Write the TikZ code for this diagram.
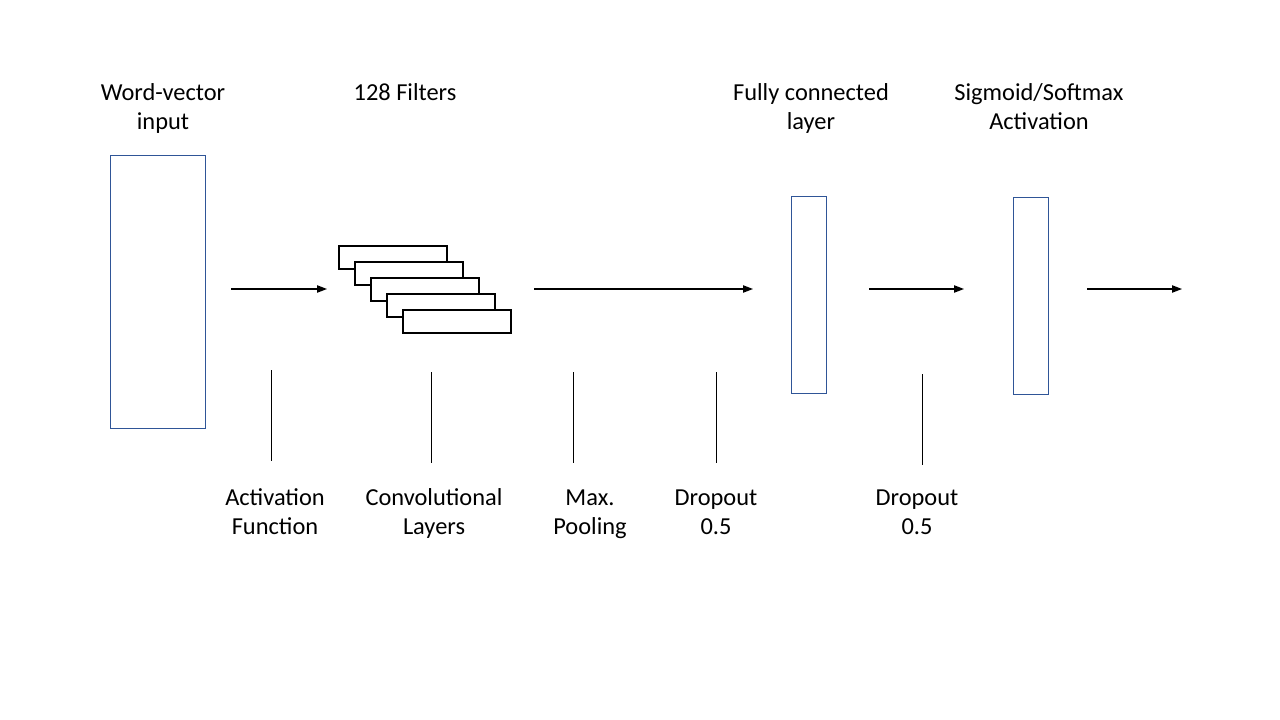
\documentclass[tikz,border=0pt]{standalone}
\usepackage{fontspec}
\setmainfont{Carlito}
\usetikzlibrary{arrows.meta}
\definecolor{boxblue}{RGB}{47,85,151}
\newcommand{\sline}{\rule[-6.5pt]{0pt}{21.75pt}}
\begin{document}
\begin{tikzpicture}[x=0.75pt,y=-0.75pt,
  lbl/.style={align=center,font=\fontsize{18.3pt}{21.75pt}\selectfont,inner sep=0pt},
  layerbox/.style={draw=boxblue,line width=0.75pt},
  filterbox/.style={draw=black,fill=white,line width=0.9pt},
  flow/.style={line width=0.9pt,-{Triangle[length=7.5pt,width=5.5pt]}},
  tick/.style={line width=0.75pt}]
\useasboundingbox (0,0) rectangle (1280,720);
% top labels
\node[lbl] (tin) at (163,109.2) {\sline Word-vector\\\sline input};
\node[lbl] (tfil) at (405,94.7) {\sline 128 Filters};
\node[lbl] (tfc) at (811,109.2) {\sline Fully connected\\\sline layer};
\node[lbl] (tsig) at (1039,109.2) {\sline Sigmoid/Softmax\\\sline Activation};
% boxes
\draw[layerbox] (110,156) rectangle (205,428);
\draw[layerbox] (791,197) rectangle (826,393);
\draw[layerbox] (1013,198) rectangle (1048,394);
% filters
\foreach \i in {0,...,4}{
  \draw[filterbox] (339+16*\i,246+16*\i) rectangle ++(108,23);
}
% arrows
\coordinate (a1s) at (231,289); \coordinate (a1e) at (327,289);
\coordinate (a2s) at (534,289); \coordinate (a2e) at (753,289);
\coordinate (a3s) at (869,289); \coordinate (a3e) at (964,289);
\coordinate (a4s) at (1087,289); \coordinate (a4e) at (1182,289);
\draw[flow] (a1s) -- (a1e);
\draw[flow] (a2s) -- (a2e);
\draw[flow] (a3s) -- (a3e);
\draw[flow] (a4s) -- (a4e);
% vertical ticks
\coordinate (v1a) at (271,370); \coordinate (v1b) at (271,461);
\coordinate (v2a) at (431,372); \coordinate (v2b) at (431,463);
\coordinate (v3a) at (573,372); \coordinate (v3b) at (573,463);
\coordinate (v4a) at (716,372); \coordinate (v4b) at (716,463);
\coordinate (v5a) at (922,374); \coordinate (v5b) at (922,465);
\draw[tick] (v1a) -- (v1b);
\draw[tick] (v2a) -- (v2b);
\draw[tick] (v3a) -- (v3b);
\draw[tick] (v4a) -- (v4b);
\draw[tick] (v5a) -- (v5b);
% bottom labels
\node[lbl] (bact) at (275,514.4) {\sline Activation\\\sline Function};
\node[lbl] (bconv) at (434,514.4) {\sline Convolutional\\\sline Layers};
\node[lbl] (bpool) at (590,514.4) {\sline Max.\\\sline Pooling};
\node[lbl] (bdrop1) at (716,514.4) {\sline Dropout\\\sline 0.5};
\node[lbl] (bdrop2) at (917,514.4) {\sline Dropout\\\sline 0.5};
\end{tikzpicture}
\end{document}
